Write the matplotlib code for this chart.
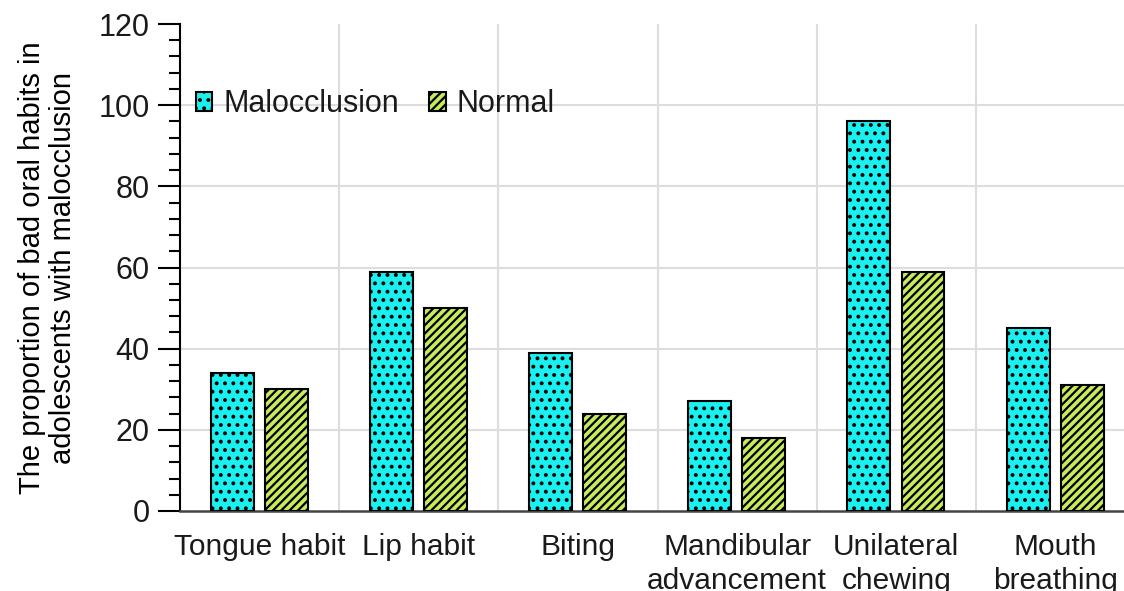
import matplotlib.pyplot as plt
import numpy as np
from matplotlib.ticker import MultipleLocator

plt.rcParams['font.family'] = ['Liberation Sans', 'DejaVu Sans']
plt.rcParams['hatch.linewidth'] = 1.6
plt.rcParams['text.color'] = '#1a1a1a'

categories = ["Tongue habit", "Lip habit", "Biting", "Mandibular\nadvancement",
              "Unilateral\nchewing", "Mouth\nbreathing"]
malocclusion = [34, 59, 39, 27, 96, 45]
normal = [30, 50, 24, 18, 59, 31]

fig = plt.figure(figsize=(11.24, 5.91), dpi=100)
# axes run slightly past the right edge, as in the reference crop
ax = fig.add_axes([180 / 1124, 80 / 591, 955 / 1124, 487 / 591])

x = np.arange(len(categories))
w = 0.27
ax.bar(x - 0.172, malocclusion, w, color="#1AF0F0", edgecolor="black",
       linewidth=1.5, hatch="..", label="Malocclusion", zorder=3)
ax.bar(x + 0.168, normal, w, color="#C8EB5C", edgecolor="black",
       linewidth=1.5, hatch="////", label="Normal", zorder=3)

ax.set_xlim(-0.5, len(categories) - 0.5)
ax.set_ylim(0, 120)
ax.yaxis.set_major_locator(MultipleLocator(20))
ax.yaxis.set_minor_locator(MultipleLocator(4))
ax.set_xticks(x)
ax.set_xticklabels(categories, fontsize=21.5, linespacing=1.25, color="#1a1a1a")
ax.tick_params(axis="x", length=0, pad=16)
ax.tick_params(axis="y", which="major", length=16, width=1.5, labelsize=22, pad=6,
               labelcolor="#1a1a1a")
ax.tick_params(axis="y", which="minor", length=8, width=1.5)

# grid: horizontal at majors, vertical at category boundaries
for yv in range(20, 120, 20):
    ax.axhline(yv, color="#DDDDDD", linewidth=1.5, zorder=0)
for xv in np.arange(0.5, len(categories) - 0.5, 1):
    ax.axvline(xv, color="#DDDDDD", linewidth=1.5, zorder=0)

for s in ["top", "right"]:
    ax.spines[s].set_visible(False)
ax.spines["left"].set_linewidth(1.5)
ax.spines["bottom"].set_linewidth(1.8)
ax.spines["bottom"].set_color("#444444")

ax.set_ylabel("The proportion of bad oral habits in\nadolescents with malocclusion",
              fontsize=21, labelpad=15, linespacing=1.15)

ax.legend(loc="upper left", bbox_to_anchor=(-0.006, 0.91), ncol=2, frameon=False,
          fontsize=22, handlelength=0.55, handleheight=0.55, handletextpad=0.35,
          columnspacing=1.0, borderaxespad=0.3)

fig.savefig("out.png", dpi=100)
